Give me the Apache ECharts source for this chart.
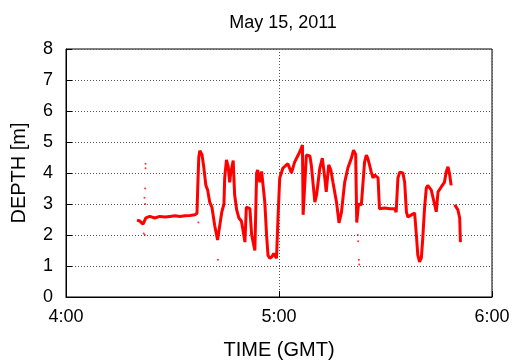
<!DOCTYPE html>
<html><head><meta charset="utf-8">
<script src="https://cdn.jsdelivr.net/npm/echarts@6/dist/echarts.min.js"></script>
<style>html,body{margin:0;padding:0;background:#fff}#c{width:513px;height:362px}</style>
</head><body><div id="c"></div>
<script>
// minutes after 4:00 GMT
const minutes = [20.0,20.8,21.7,22.5,23.6,25.0,26.4,27.9,29.3,30.7,32.1,33.5,34.9,36.3,36.9,37.1,37.4,37.7,38.3,38.8,39.4,39.9,40.5,41.1,41.9,42.7,43.3,43.9,44.5,44.7,45.2,45.7,46.1,46.4,47.1,47.5,48.1,48.7,49.4,49.8,50.4,50.8,51.8,52.3,53.2,53.7,54.0,54.6,55.1,56.0,56.5,56.9,57.4,58.0,58.5,59.3,59.7,60.2,61.1,61.6,62.5,63.5,64.4,65.4,66.3,66.6,66.8,67.2,67.7,68.7,69.1,70.1,70.6,71.5,72.2,72.9,73.3,74.0,74.6,75.2,76.2,76.9,77.6,78.5,79.4,80.4,81.0,81.6,81.9,82.4,83.2,83.6,84.1,84.6,85.0,85.5,86.0,86.5,86.9,87.4,87.9,88.3,89.8,91.2,92.6,93.0,93.5,94.0,94.9,95.4,95.9,96.3,97.3,98.2,98.7,99.1,99.6,100.1,100.5,101.0,101.5,101.9,102.9,103.8,104.3,104.8,105.7,106.6,107.1,107.6,108.0,108.5,109.0,109.5,110.4,110.9,111.1];
const depth = [2.48,2.45,2.35,2.55,2.6,2.55,2.6,2.58,2.6,2.62,2.6,2.62,2.63,2.65,2.7,3.5,4.5,4.72,4.6,4.2,3.6,3.45,3.05,2.9,2.3,1.84,2.3,2.75,3.0,3.84,4.42,4.2,3.7,4.0,4.4,3.3,2.8,2.55,2.45,2.2,1.77,2.9,2.85,2.0,1.5,4.0,4.1,3.7,4.05,3.06,2.0,1.35,1.25,1.3,1.4,1.25,2.5,3.84,4.16,4.2,4.3,4.0,4.35,4.58,4.8,4.9,2.65,2.6,4.58,4.55,4.26,3.06,3.3,4.16,4.48,3.84,3.39,4.26,4.1,3.7,3.06,2.39,2.74,3.7,4.16,4.48,4.74,4.6,2.4,3.0,2.97,3.0,4.35,4.58,4.48,4.26,4.03,3.84,3.94,4.0,3.84,2.85,2.87,2.85,2.85,2.74,3.84,4.03,4.0,3.7,2.74,2.58,2.65,2.71,2.0,1.35,1.13,1.26,1.9,2.87,3.52,3.6,3.45,3.0,2.75,3.39,3.55,3.7,4.03,4.2,4.0,3.6,null,2.97,2.81,2.55,1.77];
const outMinutes = [21.9,22.2,22.1,22.3,22.4,22.4,22.3,42.8,82.5,82.6,37.3,82.2,82.3];
const outDepth   = [2.05,2.0,3.2,3.5,4.15,4.3,3.0,1.2,1.2,1.05,2.4,2.0,1.8];
const xTicks = ['4:00','5:00','6:00'];
const title = 'May 15, 2011';

const line = minutes.map((m,i)=>[m,depth[i]]);
const pts = outMinutes.map((m,i)=>[m,outDepth[i]]);
const font = '"Liberation Sans", Arial, sans-serif';
const chart = echarts.init(document.getElementById('c'), null, {renderer:'canvas'});
chart.setOption({
  animation:false,
  backgroundColor:'#fff',
  title:{text:title,left:278,top:9,textAlign:'center',textStyle:{fontFamily:font,fontSize:18,fontWeight:'normal',color:'#000'}},
  grid:{left:66,right:21,top:49,bottom:65,outerBoundsMode:'none',containLabel:false,show:true,borderColor:'#000',borderWidth:1,backgroundColor:'transparent'},
  xAxis:{type:'value',min:0,max:120,interval:60,
    name:'TIME (GMT)',nameLocation:'middle',nameGap:43,
    nameTextStyle:{fontFamily:font,fontSize:20,color:'#000'},
    axisLine:{show:true,lineStyle:{color:'#000'}},
    axisTick:{show:true,inside:true,length:6,lineStyle:{color:'#000'}},
    axisLabel:{fontFamily:font,fontSize:18,color:'#000',margin:11,formatter:v=>xTicks[Math.round(v/60)]},
    splitLine:{show:true,lineStyle:{type:[1,2],color:'#555',width:1}}},
  yAxis:{type:'value',min:0,max:8,interval:1,
    name:'DEPTH [m]',nameLocation:'middle',nameGap:37,nameRotate:90,
    nameTextStyle:{fontFamily:font,fontSize:20,color:'#000'},
    axisLine:{show:true,lineStyle:{color:'#000'}},
    axisTick:{show:true,inside:true,length:6,lineStyle:{color:'#000'}},
    axisLabel:{fontFamily:font,fontSize:18,color:'#000',margin:13},
    splitLine:{show:true,lineStyle:{type:[1,2],color:'#555',width:1}}},
  series:[
    {type:'line',data:line,showSymbol:false,connectNulls:false,lineStyle:{color:'#ff0000',width:3},itemStyle:{color:'#ff0000'}},
    {type:'scatter',data:pts,symbolSize:2,itemStyle:{color:'#ff0000'}}
  ]
});
</script></body></html>
